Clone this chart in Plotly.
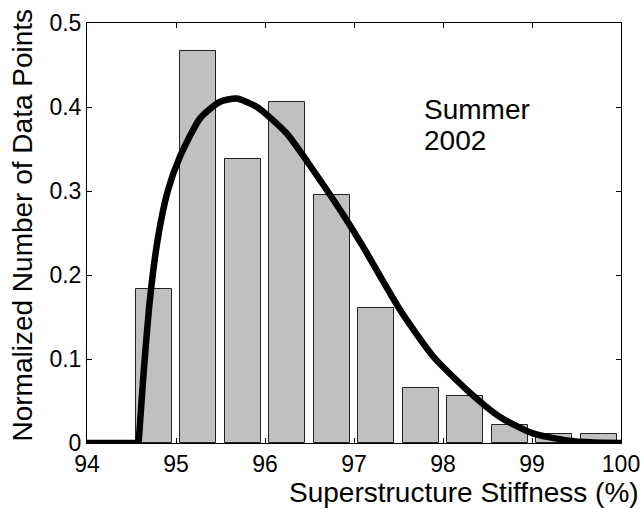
import plotly.graph_objects as go

# Histogram bins (bin centers, %) and normalized heights
bin_centers = [94.75, 95.25, 95.75, 96.25, 96.75, 97.25, 97.75, 98.25, 98.75, 99.25, 99.75]
bin_heights = [0.183, 0.467, 0.338, 0.406, 0.295, 0.161, 0.066, 0.0555, 0.021, 0.0103, 0.0103]

# Fitted distribution curve: flat part and fitted part
flat_x = [94.0, 94.58]
flat_y = [0.0, 0.0]
curve_x = [94.58, 94.63, 94.71, 94.80, 94.91, 95.045, 95.27, 95.49, 95.68,
           95.91, 96.24, 96.54, 96.92, 97.10, 97.52, 97.89, 98.27, 98.64, 99.01,
           99.39, 99.7, 100.0]
curve_y = [0.0, 0.075, 0.174, 0.246, 0.301, 0.341, 0.3865, 0.406, 0.410,
           0.400, 0.369, 0.325, 0.265, 0.234, 0.158, 0.103, 0.063, 0.031, 0.0115,
           0.003, 0.0005, 0.0]

x_ticks = [94, 95, 96, 97, 98, 99, 100]
y_ticks = [0, 0.1, 0.2, 0.3, 0.4, 0.5]
y_tick_labels = ["0", "0.1", "0.2", "0.3", "0.4", "0.5"]

FONT = "Liberation Sans, Arial, Helvetica, sans-serif"

fig = go.Figure()
fig.add_trace(go.Bar(
    x=bin_centers, y=bin_heights, width=0.4,
    marker=dict(color="#c0c0c0", line=dict(color="#222222", width=1)),
    showlegend=False,
))
fig.add_trace(go.Scatter(
    x=flat_x, y=flat_y, mode="lines",
    line=dict(color="black", width=6.5),
    showlegend=False, cliponaxis=False,
))
fig.add_trace(go.Scatter(
    x=curve_x, y=curve_y, mode="lines",
    line=dict(color="black", width=6.5, shape="spline", smoothing=0.6),
    showlegend=False, cliponaxis=False,
))

axis_common = dict(
    showgrid=False, zeroline=False, showline=True, linecolor="black", linewidth=1,
    mirror="ticks", ticks="inside", ticklen=5, tickcolor="black", tickwidth=1,
    tickfont=dict(family=FONT, size=23, color="black"), automargin=False,
)

fig.update_layout(
    width=644, height=509,
    margin=dict(l=87, r=23, t=23, b=66),
    paper_bgcolor="white", plot_bgcolor="white",
    bargap=0,
    xaxis=dict(range=[94, 100], tickvals=x_ticks, ticktext=[str(t) for t in x_ticks], **axis_common),
    yaxis=dict(range=[0, 0.5], tickvals=y_ticks, ticktext=y_tick_labels, **axis_common),
    annotations=[
        dict(text="Superstructure Stiffness (%)", xref="paper", yref="paper",
             x=0.706, y=-0.119, xanchor="center", yanchor="middle", showarrow=False,
             font=dict(family=FONT, size=28, color="black")),
        dict(text="Normalized Number of Data Points", xref="paper", yref="paper",
             x=-0.12, y=0.52, xanchor="center", yanchor="middle", textangle=-90,
             showarrow=False, font=dict(family=FONT, size=28, color="black")),
        dict(text="Summer", xref="paper", yref="paper", x=0.627, y=0.795,
             xanchor="left", yanchor="middle", showarrow=False,
             font=dict(family=FONT, size=28, color="black")),
        dict(text="2002", xref="paper", yref="paper", x=0.627, y=0.72,
             xanchor="left", yanchor="middle", showarrow=False,
             font=dict(family=FONT, size=28, color="black")),
    ],
)

fig.write_html("out.html")
